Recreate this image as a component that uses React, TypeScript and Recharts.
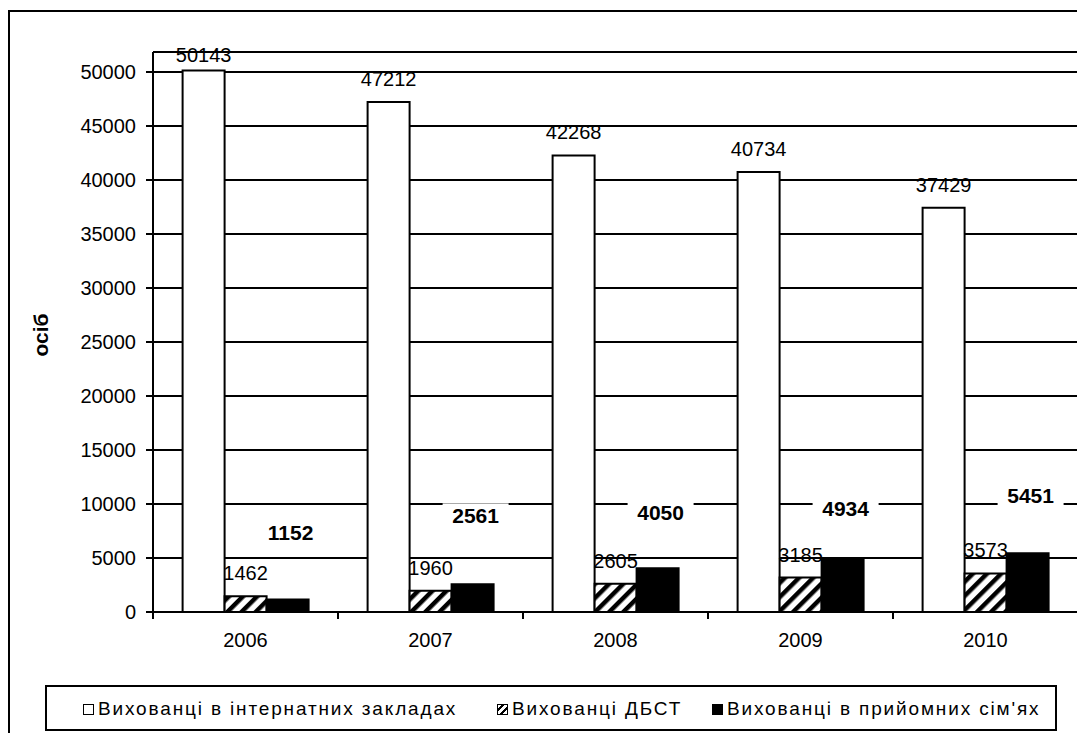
import React from 'react';
import {
  BarChart,
  Bar,
  XAxis,
  YAxis,
  CartesianGrid,
  LabelList,
  ReferenceArea,
} from 'recharts';

const years = ['2006', '2007', '2008', '2009', '2010'];
const boarding = [50143, 47212, 42268, 40734, 37429];
const dbst = [1462, 1960, 2605, 3185, 3573];
const foster = [1152, 2561, 4050, 4934, 5451];
const yTicks = [0, 5000, 10000, 15000, 20000, 25000, 30000, 35000, 40000, 45000, 50000];

const seriesNames = [
  'Вихованці в інтернатних закладах',
  'Вихованці ДБСТ',
  'Вихованці в прийомних сім\'ях',
];

// how far above the bar top the bold labels were placed by hand
const fosterLabelLift = [67, 69, 56, 50, 58];

const FONT = '"Liberation Sans", Arial, sans-serif';

const data = years.map((year, i) => ({
  year,
  boarding: boarding[i],
  dbst: dbst[i],
  foster: foster[i],
}));

const plainLabel = (minY: number) => (props: any) => {
  const { x, y, width, value } = props;
  const cy = Math.max(y - 23, minY);
  return (
    <text
      x={x + width / 2}
      y={cy}
      textAnchor="middle"
      dominantBaseline="central"
      fontSize={20}
      fontFamily={FONT}
      fill="#000"
    >
      {value}
    </text>
  );
};

const fosterLabel = (props: any) => {
  const { x, y, width, value, index } = props;
  const cx = x + width / 2 + 3;
  const cy = y - fosterLabelLift[index];
  return (
    <g>
      <rect x={cx - 33} y={cy - 12} width={66} height={24} fill="#fff" />
      <text
        x={cx}
        y={cy}
        textAnchor="middle"
        dominantBaseline="central"
        fontSize={21}
        fontWeight="bold"
        fontFamily={FONT}
        fill="#000"
      >
        {value}
      </text>
    </g>
  );
};

const YearTick = (props: any) => {
  const { x, y, payload, index, visibleTicksCount, width } = props;
  const band = width / visibleTicksCount;
  return (
    <g>
      <line x1={x - band / 2} x2={x - band / 2} y1={y} y2={y + 7} stroke="#000" strokeWidth={2} />
      {index === visibleTicksCount - 1 && (
        <line x1={x + band / 2} x2={x + band / 2} y1={y} y2={y + 7} stroke="#000" strokeWidth={2} />
      )}
      <text
        x={x}
        y={y + 28}
        textAnchor="middle"
        dominantBaseline="central"
        fontSize={20}
        fontFamily={FONT}
        fill="#000"
      >
        {payload.value}
      </text>
    </g>
  );
};

const YLabel = (props: any) => {
  const { viewBox } = props;
  const cy = viewBox.y + viewBox.height / 2 + 3;
  return (
    <text
      x={32}
      y={cy}
      transform={`rotate(-90, 32, ${cy})`}
      textAnchor="middle"
      dominantBaseline="central"
      fontSize={21}
      fontWeight="bold"
      fontFamily={FONT}
      fill="#000"
    >
      осіб
    </text>
  );
};

const legendLeft = [36, 450, 665];

const LegendIcon = ({ kind }: { kind: number }) => {
  const base: React.CSSProperties = {
    width: 9,
    height: 9,
    border: '1.5px solid #000',
    marginRight: 4,
    display: 'inline-block',
  };
  if (kind === 0) return <span style={{ ...base, background: '#fff' }} />;
  if (kind === 1)
    return (
      <span
        style={{
          ...base,
          background: 'repeating-linear-gradient(-45deg, #fff 0 3px, #000 3px 5px)',
        }}
      />
    );
  return <span style={{ ...base, background: '#000' }} />;
};

export default function App() {
  return (
    <div style={{ position: 'relative', width: 1077, height: 725, overflow: 'hidden', background: '#fff' }}>
      <div
        style={{
          position: 'absolute',
          left: 0,
          top: 2,
          width: 1200,
          height: 900,
          border: '2px solid #000',
        }}
      />
      <div style={{ position: 'absolute', left: 0, top: 0 }}>
        <BarChart
          width={1077}
          height={725}
          data={data}
          margin={{ top: 44, right: 7, bottom: 91, left: 0 }}
          barCategoryGap="16%"
          barGap={0}
        >
          <defs>
            <pattern
              id="hatch"
              patternUnits="userSpaceOnUse"
              width={10}
              height={10}
              patternTransform="rotate(45)"
            >
              <rect x={0} y={0} width={10} height={10} fill="#fff" />
              <rect x={0} y={0} width={4.5} height={10} fill="#000" />
            </pattern>
          </defs>
          <CartesianGrid vertical={false} stroke="#000" strokeWidth={2} />
          <ReferenceArea fill="none" stroke="#808080" strokeWidth={2} ifOverflow="visible" />
          <XAxis
            dataKey="year"
            height={30}
            tickLine={false}
            tickSize={0}
            tickMargin={0}
            axisLine={{ stroke: '#000', strokeWidth: 2 }}
            tick={<YearTick />}
            interval={0}
          />
          <YAxis
            width={145}
            domain={[0, 51850]}
            ticks={yTicks}
            allowDataOverflow
            tickSize={7}
            tickMargin={10}
            tickLine={{ stroke: '#000', strokeWidth: 2 }}
            axisLine={{ stroke: '#000', strokeWidth: 2 }}
            tick={{ fill: '#000', fontSize: 20, fontFamily: FONT }}
            label={<YLabel />}
          />
          <Bar dataKey="boarding" name={seriesNames[0]} fill="#fff" stroke="#000" strokeWidth={2} isAnimationActive={false}>
            <LabelList dataKey="boarding" content={plainLabel(47)} />
          </Bar>
          <Bar dataKey="dbst" name={seriesNames[1]} fill="url(#hatch)" stroke="#000" strokeWidth={2} isAnimationActive={false}>
            <LabelList dataKey="dbst" content={plainLabel(0)} />
          </Bar>
          <Bar dataKey="foster" name={seriesNames[2]} fill="#000" stroke="#000" strokeWidth={2} isAnimationActive={false}>
            <LabelList dataKey="foster" content={fosterLabel} />
          </Bar>
        </BarChart>
      </div>
      <div
        style={{
          position: 'absolute',
          left: 37,
          top: 677,
          width: 1008,
          height: 42,
          border: '2px solid #000',
          fontFamily: FONT,
          fontSize: 19,
          letterSpacing: 1.85,
          color: '#000',
        }}
      >
        {seriesNames.map((name, i) => (
          <div
            key={name}
            style={{
              position: 'absolute',
              left: legendLeft[i],
              top: 1,
              height: 42,
              display: 'flex',
              alignItems: 'center',
              whiteSpace: 'nowrap',
            }}
          >
            <LegendIcon kind={i} />
            <span>{name}</span>
          </div>
        ))}
      </div>
    </div>
  );
}
